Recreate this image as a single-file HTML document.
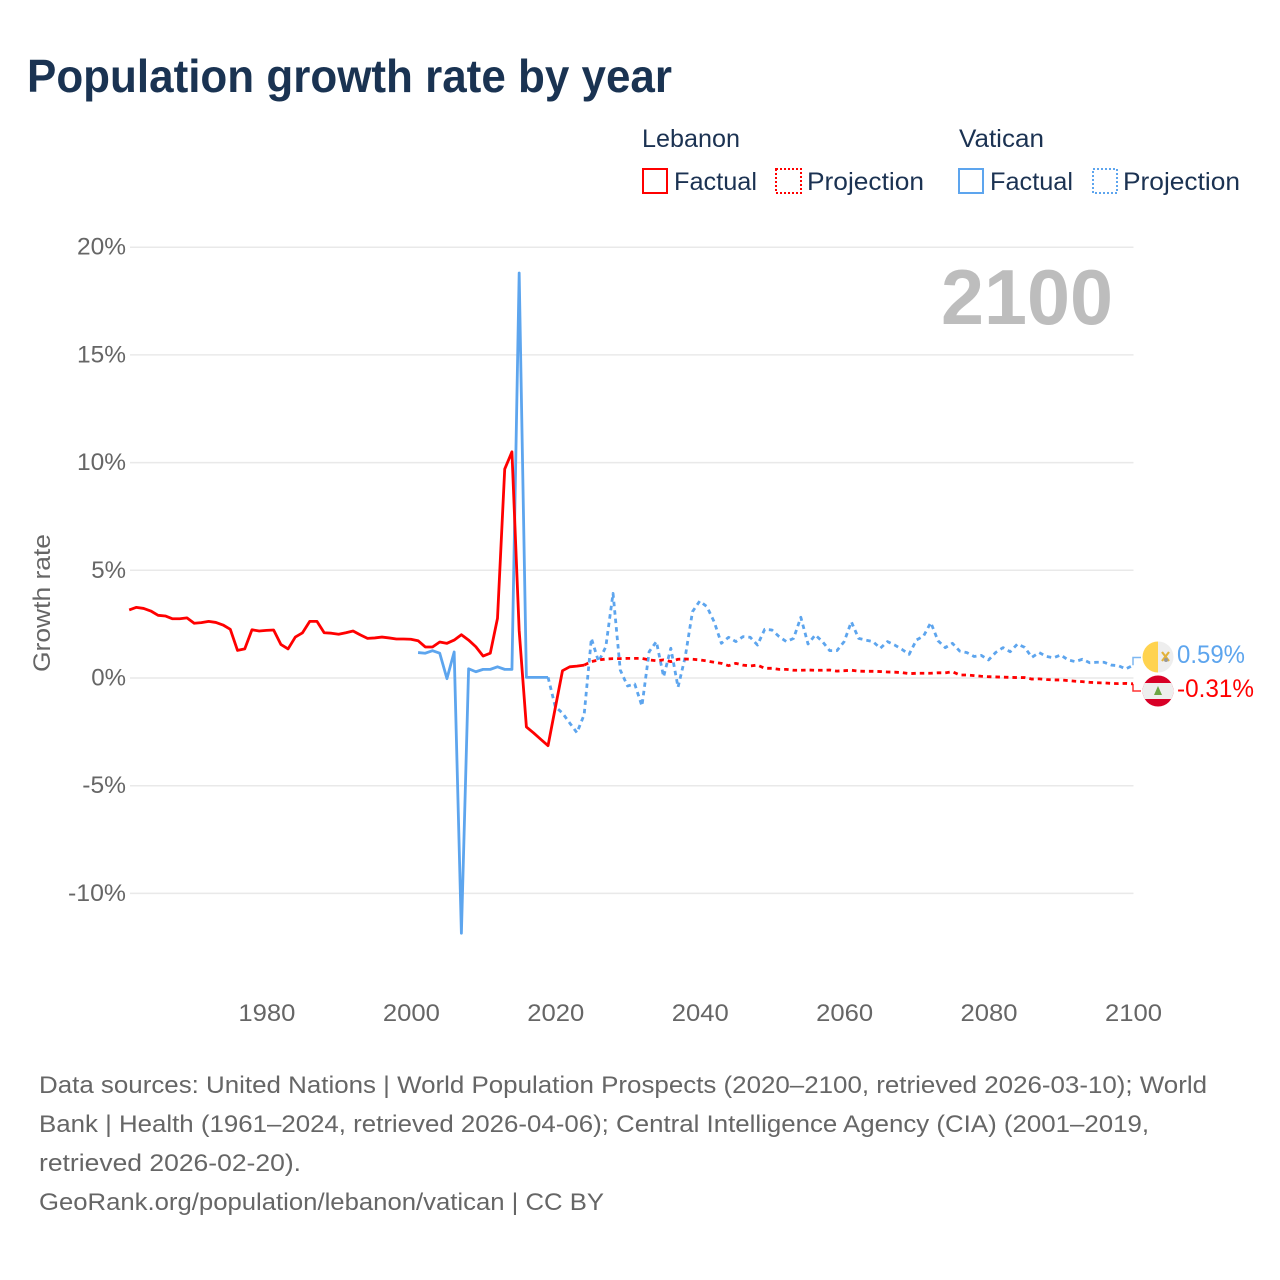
<!DOCTYPE html>
<html lang="en">
<head>
<meta charset="utf-8">
<title>Population growth rate by year</title>
<style>
  html, body { margin: 0; padding: 0; background: #fff; }
  svg { display: block; font-family: "Liberation Sans", sans-serif; }
  .tick { font-size: 24px; fill: #666; }
  .foot { font-size: 24px; fill: #666; }
  .leg { font-size: 25px; fill: #1b3252; }
</style>
</head>
<body>
<svg id="chart" xmlns="http://www.w3.org/2000/svg" width="1280" height="1280" viewBox="0 0 1280 1280">
  <rect width="1280" height="1280" fill="#fff"/>
  <text x="27" y="92" font-size="46" font-weight="700" fill="#1a3352" textLength="645" lengthAdjust="spacingAndGlyphs">Population growth rate by year</text>

  <g>
    <text class="leg" x="642" y="147" textLength="98" lengthAdjust="spacingAndGlyphs">Lebanon</text>
    <rect x="643" y="169" width="24" height="24" fill="none" stroke="#ff0000" stroke-width="2"/>
    <text class="leg" x="674" y="190" textLength="83" lengthAdjust="spacingAndGlyphs">Factual</text>
    <rect x="776" y="169" width="25" height="24" fill="none" stroke="#ff0000" stroke-width="2" stroke-dasharray="2 2"/>
    <text class="leg" x="807" y="190" textLength="117" lengthAdjust="spacingAndGlyphs">Projection</text>
    <text class="leg" x="959" y="147" textLength="85" lengthAdjust="spacingAndGlyphs">Vatican</text>
    <rect x="959" y="169" width="24" height="24" fill="none" stroke="#5da5ee" stroke-width="2"/>
    <text class="leg" x="990" y="190" textLength="83" lengthAdjust="spacingAndGlyphs">Factual</text>
    <rect x="1093" y="169" width="24" height="24" fill="none" stroke="#5da5ee" stroke-width="2" stroke-dasharray="2 2"/>
    <text class="leg" x="1123" y="190" textLength="117" lengthAdjust="spacingAndGlyphs">Projection</text>
  </g>

  <g id="grid"></g>
  <g id="yticks"></g>
  <g id="xticks"></g>
  <text class="tick" transform="translate(50,603) rotate(-90)" text-anchor="middle" font-size="25" textLength="138" lengthAdjust="spacingAndGlyphs">Growth rate</text>
  <text x="941" y="324" font-size="78" font-weight="700" fill="#bdbdbd" textLength="172" lengthAdjust="spacingAndGlyphs">2100</text>
  <g id="series"></g>

  <defs>
    <clipPath id="clipV"><circle cx="1158" cy="657" r="15.5"/></clipPath>
    <clipPath id="clipL"><circle cx="1158" cy="691" r="15.5"/></clipPath>
  </defs>
  <g clip-path="url(#clipV)">
    <rect x="1142" y="641" width="16" height="32" fill="#ffd34f"/>
    <rect x="1158" y="641" width="16" height="32" fill="#eeeeee"/>
    <path d="M1162 652l7 9M1169 652l-7 9" stroke="#e2b33c" stroke-width="2.2"/>
    <circle cx="1166" cy="660" r="2" fill="#999"/>
  </g>
  <g clip-path="url(#clipL)">
    <rect x="1142" y="675" width="32" height="32" fill="#d80027"/>
    <rect x="1142" y="683" width="32" height="16" fill="#eeeeee"/>
    <path d="M1158 686l4 9h-8z" fill="#6da544"/>
  </g>
  <text x="1177" y="663" font-size="25" fill="#5da5ee" textLength="68" lengthAdjust="spacingAndGlyphs">0.59%</text>
  <text x="1177" y="697" font-size="25" fill="#ff0000" textLength="77" lengthAdjust="spacingAndGlyphs">-0.31%</text>

  <g>
    <text class="foot" x="39" y="1093" textLength="1168" lengthAdjust="spacingAndGlyphs">Data sources: United Nations | World Population Prospects (2020–2100, retrieved 2026-03-10); World</text>
    <text class="foot" x="39" y="1132" textLength="1110" lengthAdjust="spacingAndGlyphs">Bank | Health (1961–2024, retrieved 2026-04-06); Central Intelligence Agency (CIA) (2001–2019,</text>
    <text class="foot" x="39" y="1171" textLength="262" lengthAdjust="spacingAndGlyphs">retrieved 2026-02-20).</text>
    <text class="foot" x="39" y="1210" textLength="565" lengthAdjust="spacingAndGlyphs">GeoRank.org/population/lebanon/vatican | CC BY</text>
  </g>
</svg>
<script>
const xTickYears = [1980, 2000, 2020, 2040, 2060, 2080, 2100];
const yTickValues = [20, 15, 10, 5, 0, -5, -10];

const lebanonFactualStart = 1961;
const lebanonFactual = [3.16,3.28,3.23,3.11,2.91,2.88,2.75,2.75,2.79,2.54,2.57,2.63,2.58,2.46,2.26,1.28,1.35,2.24,2.18,2.21,2.23,1.56,1.35,1.90,2.10,2.63,2.63,2.10,2.08,2.03,2.10,2.18,2.00,1.84,1.86,1.90,1.86,1.81,1.81,1.80,1.73,1.44,1.44,1.67,1.61,1.76,2.01,1.76,1.45,1.02,1.15,2.77,9.70,10.50,2.20,-2.27,-2.55,-2.85,-3.14,-1.39,0.34,0.52,0.55,0.60];

const lebanonProjectionStart = 2024;
const lebanonProjection = [0.60,0.76,0.84,0.88,0.90,0.90,0.91,0.91,0.91,0.84,0.80,0.84,0.76,0.87,0.88,0.87,0.84,0.79,0.73,0.68,0.57,0.68,0.60,0.56,0.60,0.45,0.45,0.40,0.40,0.36,0.36,0.37,0.36,0.36,0.37,0.32,0.34,0.36,0.32,0.31,0.31,0.30,0.28,0.27,0.25,0.20,0.22,0.22,0.22,0.24,0.24,0.29,0.14,0.14,0.11,0.08,0.06,0.05,0.04,0.03,0.02,0.02,-0.05,-0.04,-0.07,-0.09,-0.09,-0.12,-0.15,-0.17,-0.20,-0.22,-0.23,-0.25,-0.26,-0.25,-0.27];

const vaticanFactualStart = 2001;
const vaticanFactual = [1.18,1.15,1.27,1.15,-0.03,1.21,-11.85,0.43,0.29,0.40,0.40,0.52,0.40,0.40,18.80,0.03,0.03,0.03,0.03];

const vaticanProjectionStart = 2019;
const vaticanProjection = [0.03,-1.33,-1.63,-2.09,-2.54,-1.70,1.84,0.76,1.45,3.93,0.37,-0.37,-0.28,-1.30,1.22,1.69,0.06,1.38,-0.43,0.99,3.08,3.57,3.31,2.61,1.61,1.89,1.69,1.92,1.89,1.53,2.26,2.23,1.92,1.69,1.84,2.82,1.58,2.00,1.69,1.27,1.27,1.69,2.61,1.84,1.76,1.69,1.38,1.69,1.53,1.33,1.10,1.76,1.95,2.57,1.73,1.41,1.61,1.25,1.18,1.00,1.05,0.84,1.19,1.41,1.22,1.58,1.42,0.96,1.18,1.00,0.94,1.07,0.84,0.76,0.87,0.71,0.73,0.73,0.60,0.57,0.42,0.59];

const NS = 'http://www.w3.org/2000/svg';
const xScale = year => 129.2 + (year - 1961) * (1133 - 129.2) / 139;
const yScale = value => 678 - value * 21.54;

function make(tag, attrs, parent) {
  const el = document.createElementNS(NS, tag);
  for (const k in attrs) el.setAttribute(k, attrs[k]);
  parent.appendChild(el);
  return el;
}
function labelWidth(s) {
  let w = 0;
  for (const c of s) w += c === '%' ? 20.5 : c === '-' ? 9 : 14.25;
  return w;
}

const grid = document.getElementById('grid');
const yticks = document.getElementById('yticks');
const xticks = document.getElementById('xticks');
const series = document.getElementById('series');

yTickValues.forEach(v => {
  const line = make('line', { x1: 130, x2: 1133.5, y1: yScale(v), y2: yScale(v), stroke: '#e9e9e9', 'stroke-width': 1.5 }, grid);
  
  
  const s = v + '%';
  const t = make('text', { class: 'tick', x: 126, y: yScale(v) + 7.5, 'text-anchor': 'end', textLength: labelWidth(s), lengthAdjust: 'spacingAndGlyphs' }, yticks);
  t.textContent = s;
  
  
});

xTickYears.forEach(y => {
  const s = String(y);
  const t = make('text', { class: 'tick', x: xScale(y) + 0.5, y: 1021, 'text-anchor': 'middle', textLength: labelWidth(s), lengthAdjust: 'spacingAndGlyphs' }, xticks);
  t.textContent = s;
  
  
});

function pathFor(values, start) {
  return values.map((v, i) => (i ? 'L' : 'M') + xScale(start + i).toFixed(2) + ' ' + yScale(v).toFixed(2)).join('');
}
function drawSeries(values, start, color, dashed) {
  const attrs = { d: pathFor(values, start), fill: 'none', stroke: color, 'stroke-width': 2.8, 'stroke-linejoin': 'round' };
  if (dashed) attrs['stroke-dasharray'] = '4.5 4';
  return make('path', attrs, series);
}

const vFact = drawSeries(vaticanFactual, vaticanFactualStart, '#5da5ee', false);


const vProj = drawSeries(vaticanProjection, vaticanProjectionStart, '#5da5ee', true);


const lFact = drawSeries(lebanonFactual, lebanonFactualStart, '#ff0000', false);


const lProj = drawSeries(lebanonProjection, lebanonProjectionStart, '#ff0000', true);



const xEnd = xScale(2100);
const vEnd = yScale(vaticanProjection[vaticanProjection.length - 1]);
const lEnd = yScale(lebanonProjection[lebanonProjection.length - 1]);
const vConn = make('path', { d: 'M' + xEnd + ' ' + vEnd + 'L' + (xEnd) + ' 657.5L1141 657.5', fill: 'none', stroke: '#5da5ee', 'stroke-width': 1.5, opacity: 0.8 }, series);


const lConn = make('path', { d: 'M' + xEnd + ' ' + lEnd + 'L' + (xEnd) + ' 691L1141 691', fill: 'none', stroke: '#ff0000', 'stroke-width': 1.5, opacity: 0.8 }, series);


</script>
</body>
</html>
